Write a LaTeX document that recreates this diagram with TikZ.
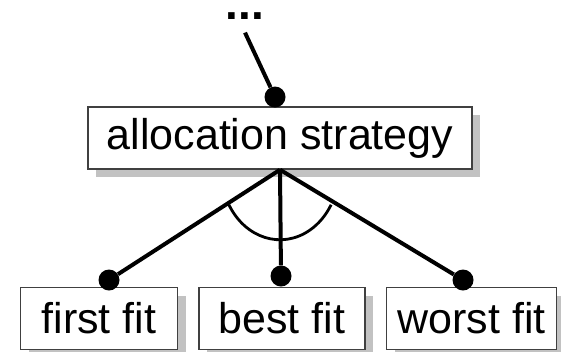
\documentclass[tikz,border=0pt]{standalone}
\usepackage{fontspec}
\setmainfont{Liberation Sans}
\usetikzlibrary{positioning,shadows}

\begin{document}
\begin{tikzpicture}[x=1pt, y=-1pt,
  node distance=117pt and 20pt,
  box/.style={draw=black!75, line width=1.5pt, fill=white, inner sep=2pt,
              minimum height=62pt, font=\fontsize{43}{48}\selectfont,
              drop shadow={shadow xshift=8pt, shadow yshift=-8pt,
                           fill=black!24, opacity=1}},
  knob/.style={circle, fill=black, inner sep=0pt, minimum size=21pt},
  link/.style={line width=4pt}]
\useasboundingbox (0,0) rectangle (561,351);
% parent feature and the elided tree above it
\node[box, minimum width=384pt] (alloc) at (280,138) {allocation strategy};
\node[font=\fontsize{46}{48}\selectfont\bfseries, inner sep=13pt] (more) at (245,16) {...};
% alternatives
\node[box, minimum width=166pt, below=117pt of alloc, xshift=2pt] (best) {best fit};
\node[box, minimum width=157pt, left=of best] (first) {first fit};
\node[box, minimum width=170pt, right=of best] (worst) {worst fit};
% knobs where the edges meet the boxes
\node[knob] (k0) at (275,97) {};
\node[knob] (k1) at (109,280) {};
\node[knob] (k2) at (281,276) {};
\node[knob] (k3) at (463,280) {};
\draw[link] (more.south) -- (k0);
\draw[link] (alloc.south) -- (k1);
\draw[link] (alloc.south) -- (k2);
\draw[link] (alloc.south) -- (k3);
% alternative group arc
\draw[line width=2.8pt] (alloc.south) ++(150:59 and 70)
  arc[start angle=150, end angle=30, x radius=59, y radius=70];
\end{tikzpicture}
\end{document}
